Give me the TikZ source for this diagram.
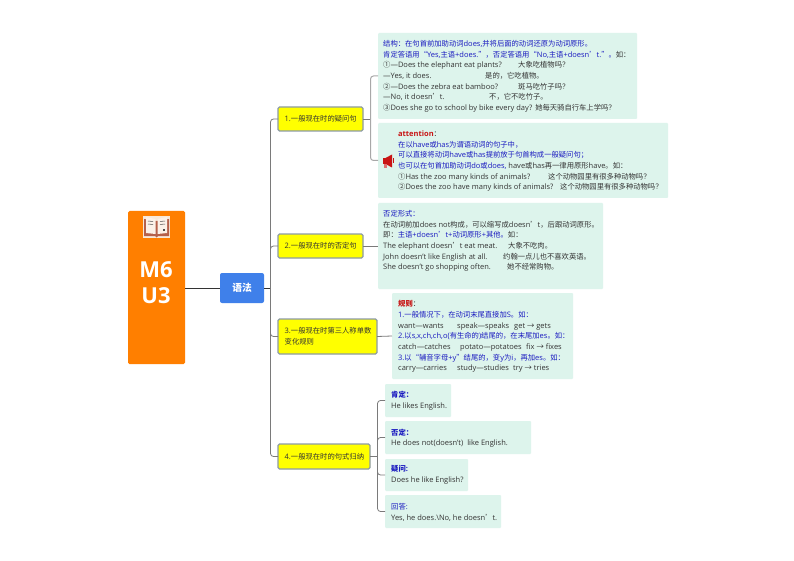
\documentclass[tikz,border=0pt]{standalone}
\usepackage{fontspec}
\setmainfont{Open Sans}
\newfontfamily\cjkf[NFSSFamily=cjk,Scale=0.975]{Noto Sans CJK SC}
\usetikzlibrary{calc}
\XeTeXinterchartokenstate=1
\newXeTeXintercharclass\cjkc
\newcount\cc
\cc="3000 \loop\ifnum\cc<"A000 \XeTeXcharclass\cc=\cjkc \advance\cc by 1 \repeat
\cc="FF00 \loop\ifnum\cc<"FFF0 \XeTeXcharclass\cc=\cjkc \advance\cc by 1 \repeat
\cc="2460 \loop\ifnum\cc<"2474 \XeTeXcharclass\cc=\cjkc \advance\cc by 1 \repeat
\XeTeXcharclass"2018=\cjkc \XeTeXcharclass"2019=\cjkc
\XeTeXcharclass"201C=\cjkc \XeTeXcharclass"201D=\cjkc
\XeTeXcharclass"2192=\cjkc
\newcommand\tocjk{\fontfamily{cjk}\selectfont}
\newcommand\tolat{\rmfamily}
\XeTeXinterchartoks 0 \cjkc={\tocjk}
\XeTeXinterchartoks 4095 \cjkc={\tocjk}
\XeTeXinterchartoks \cjkc 0={\tolat}
\XeTeXinterchartoks \cjkc 4095={\tolat}
\definecolor{rootc}{HTML}{FF7F00}
\definecolor{mainc}{HTML}{3F80EA}
\definecolor{greenc}{HTML}{DDF4EC}
\definecolor{yborder}{HTML}{8C9BA5}
\definecolor{yfill}{HTML}{FFFF00}
\definecolor{txt}{HTML}{333333}
\definecolor{bl}{HTML}{1A1AC0}
\definecolor{rd}{HTML}{C81414}
\definecolor{linec}{HTML}{7A7A7A}
\definecolor{linel}{HTML}{A8A8A8}
\definecolor{cream}{HTML}{F8E8D8}
\definecolor{cover}{HTML}{B5604A}
\newcommand\tb[2]{\makebox[#1pt][l]{#2}}
\newcommand\bt[1]{\textcolor{bl}{#1}}
\tikzset{
 boxat/.style args={#1/#2/#3/#4}{minimum width=#3-#1,minimum height=#4-#2,anchor=north west,inner sep=0pt,outer sep=0pt},
 greenbox/.style={fill=greenc,rounded corners=1pt,draw=none},
 yellowbox/.style={fill=yfill,draw=yborder,line width=1.2pt,rounded corners=1.5pt},
 bodytext/.style={anchor=north west,inner sep=0pt,align=left,text=txt,font=\fontsize{7.5}{10.67}\selectfont},
 ytext/.style={anchor=west,inner sep=0pt,align=left,text=txt,font=\fontsize{7.5}{10.67}\selectfont},
 conn/.style={draw=linec,line width=0.8pt,rounded corners=3pt},
 connl/.style={draw=linel,line width=1pt,rounded corners=3pt},
 connd/.style={draw=black!80,line width=0.9pt},
}
\begin{document}
\begin{tikzpicture}[x=1pt,y=-1pt]
\useasboundingbox[fill=white] (0,0) rectangle (794,561);
% root and main
\node[fill=rootc,rounded corners=1.5pt,boxat=128/211/185/364] (root) at (128,211) {};
\node[fill=mainc,rounded corners=2pt,boxat=220/273/264/303] (main) at (220,273) {};
\node[inner sep=0pt,text=white,font=\bfseries\fontsize{10}{12}\selectfont] (maint) at (242,287.5) {语法};
\node[inner sep=0pt,align=center,text=white,font=\bfseries\fontsize{22}{26}\selectfont] (roott) at (156,283) {M6\\U3};
% book icon
\fill[fill=cream] (143,216) rectangle (170,238);
\fill[fill=cover] (144,219) -- (156.5,221) -- (169,219) -- (169,236) -- (158,236) -- (156.5,237.5) -- (155,236) -- (144,236) -- cycle;
\fill[fill=cream!60!white] (146,217) -- (155.5,219) -- (155.5,234) -- (146,233) -- cycle;
\fill[fill=cream!60!white] (167,217) -- (157.5,219) -- (157.5,234) -- (167,233) -- cycle;
\draw[black!70,line width=0.5pt] (148,221) -- (153,221.5) (148,224) -- (153,224.5) (160,221.5) -- (165,221) (160,224.5) -- (165,224);
\fill[black!70] (163,229) rectangle (165,231);
% yellow nodes
\node[yellowbox,boxat=278/107/363/131] (y1) at (278,107) {};
\node[yellowbox,boxat=278/234/363/258] (y2) at (278,234) {};
\node[yellowbox,boxat=278/319/377/354] (y3) at (278,319) {};
\node[yellowbox,boxat=278/444/370/469] (y4) at (278,444) {};
\node[ytext] (y1t) at (284.5,119) {1.一般现在时的疑问句};
\node[ytext] (y2t) at (284.5,246) {2.一般现在时的否定句};
\node[ytext] (y3t) at (284.5,336.5) {3.一般现在时第三人称单数\\变化规则};
\node[ytext] (y4t) at (284.5,456.5) {4.一般现在时的句式归纳};
% green boxes
\node[greenbox,boxat=378/33/637/119] (a) at (378,33) {};
\node[greenbox,boxat=378/123/668/198] (b) at (378,123) {};
\node[greenbox,boxat=378/203/603/289] (c) at (378,203) {};
\node[greenbox,boxat=392/293/573/379] (d) at (392,293) {};
\node[greenbox,boxat=385/384/451/417] (e) at (385,384) {};
\node[greenbox,boxat=385/421/531/454] (f) at (385,421) {};
\node[greenbox,boxat=385/459/468/491] (g) at (385,459) {};
\node[greenbox,boxat=385/495/501/528] (h) at (385,495) {};
\node[bodytext] (at) at (383,40) {\bt{结构：在句首前加助动词does,并将后面的动词还原为动词原形。}\\
\bt{肯定答语用“Yes,主语+does.”，否定答语用“No,主语+doesn’t.”。}如：\\
\tb{135}{①—Does the elephant eat plants?}大象吃植物吗？\\
\tb{102}{—Yes, it does.}是的，它吃植物。\\
\tb{135}{②—Does the zebra eat bamboo?}斑马吃竹子吗？\\
\tb{106}{—No, it doesn’t.}不，它不吃竹子。\\
③Does she go to school by bike every day?\hspace{3pt}她每天骑自行车上学吗？};
\node[bodytext] (bt) at (398,130.5) {\textcolor{rd}{\bfseries attention}：\\
\bt{在以have或has为谓语动词的句子中，}\\
\bt{可以直接将动词have或has提前放于句首构成一般疑问句；}\\
\bt{也可以在句首加助动词do或does,} have或has再一律用原形have。如：\\
\tb{150}{①Has the zoo many kinds of animals?}这个动物园里有很多种动物吗？\\
\tb{162}{②Does the zoo have many kinds of animals?}这个动物园里有很多种动物吗？};
\node[bodytext] (ct) at (383,210) {\bt{否定形式：}\\
在动词前加does not构成，可以缩写成doesn’t，后跟动词原形。\\
即：\bt{主语+doesn’t+动词原形+其他。}如：\\
\tb{125}{The elephant doesn’t eat meat.}大象不吃肉。\\
\tb{120}{John doesn't like English at all.}约翰一点儿也不喜欢英语。\\
\tb{124}{She doesn't go shopping often.}她不经常购物。};
\node[bodytext] (dt) at (398,300.5) {\textcolor{rd}{\bfseries 规则}：\\
\bt{1.一般情况下，在动词末尾直接加S。如：}\\
\tb{59}{want—wants}\tb{57}{speak—speaks}get → gets\\
\bt{2.以s,x,ch,ch,o(有生命的)结尾的，在末尾加es。如：}\\
\tb{62}{catch—catches}\tb{66}{potato—potatoes}fix → fixes\\
\bt{3.以“辅音字母+y”结尾的，变y为i，再加es。如：}\\
\tb{59}{carry—carries}\tb{56}{study—studies}try → tries};
\node[bodytext] (et) at (391,391) {\bt{\bfseries 肯定：}\\He likes English.};
\node[bodytext] (ft) at (391,428.5) {\bt{\bfseries 否定：}\\He does not(doesn't)\hspace{2pt} like English.};
\node[bodytext] (gt) at (391,465) {\bt{\bfseries 疑问:}\\Does he like English?};
\node[bodytext] (ht) at (391,503) {\bt{回答:}\\Yes, he does.\textbackslash No, he doesn’t.};
% speaker icon
\fill[rd] (383,158) rectangle (386,164);
\fill[rd] (385.5,158) -- (392,154.5) -- (392,167.5) -- (385.5,164) -- cycle;
\fill[rd!60] (384,164) rectangle (386.5,168);
\fill[rd] (392.5,158.5) rectangle (394,163.5);
% connectors
\coordinate (tr) at (270.5,288);
\coordinate (bk1) at (370.5,119);
\coordinate (bk4) at (377.5,456.5);
\draw[connd] (root.east |- main.west) -- (main.west);
\draw[connd] (main.east) -- (tr);
\draw[conn] (y1.west) -| (tr);
\draw[conn] (y2.west) -| (tr);
\draw[conn] (y3.west) -| (tr);
\draw[conn] (y4.west) -| (tr);
\draw[conn] (y1.east) -- (bk1);
\draw[connl] (a.west) -| (bk1);
\draw[connl] (b.west) -| (bk1);
\draw[conn] (y2.east) -- (c.west);
\draw[conn] (y3.east) -- (d.west);
\draw[conn] (y4.east) -- (bk4);
\draw[conn] (e.west) -| (bk4);
\draw[conn] (f.west) -| (bk4);
\draw[conn] (g.west) -| (bk4);
\draw[conn] (h.west) -| (bk4);
\end{tikzpicture}
\end{document}
